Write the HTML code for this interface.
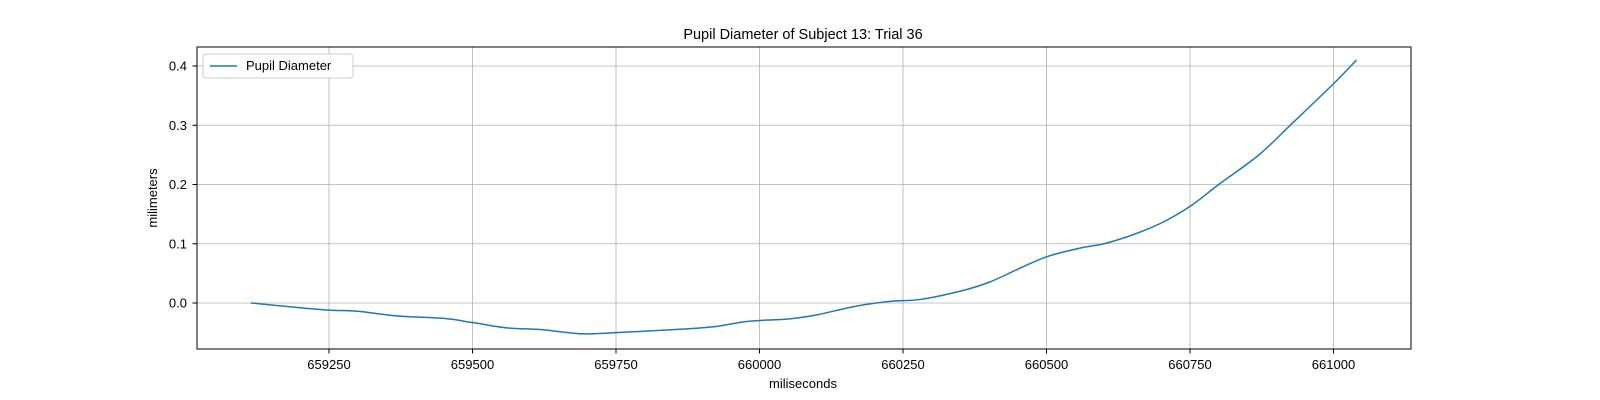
<!DOCTYPE html>
<html><head><meta charset="utf-8"><style>
html,body{margin:0;padding:0;background:#fff;}
svg{display:block;font-family:"Liberation Sans","DejaVu Sans",sans-serif;}
</style></head><body>
<svg id="chart" width="1600" height="400">
<rect x="0" y="0" width="1600" height="400" fill="#fff"/>
<g id="grid"></g>
<g id="xticks"></g>
<g id="yticks"></g>
<path id="line" fill="none" stroke="#1f77b4" stroke-width="1.5"/>
<rect x="197" y="47" width="1214" height="302" fill="none" stroke="#000" stroke-width="1"/>
<text x="803" y="39" text-anchor="middle" font-size="14.5">Pupil Diameter of Subject 13: Trial 36</text>
<text x="803" y="388" text-anchor="middle" font-size="13">miliseconds</text>
<text transform="translate(157,198) rotate(-90)" text-anchor="middle" font-size="13">milimeters</text>
<g>
<rect x="203" y="54" width="150" height="24" rx="3" fill="#fff" stroke="#ccc"/>
<line x1="210" y1="66" x2="237" y2="66" stroke="#1f77b4" stroke-width="1.5"/>
<text x="246" y="70" font-size="13">Pupil Diameter</text>
</g>
</svg>
<script>
const xs=[659114,659200,659250,659300,659370,659450,659500,659560,659620,659690,659750,659850,659920,659980,660050,660100,660170,660230,660280,660350,660400,660450,660500,660560,660600,660650,660700,660750,660800,660870,660930,661000,661040];
const ys=[0.0,-0.008,-0.012,-0.014,-0.022,-0.026,-0.033,-0.042,-0.045,-0.052,-0.050,-0.045,-0.040,-0.031,-0.027,-0.020,-0.005,0.003,0.006,0.020,0.035,0.057,0.078,0.093,0.100,0.115,0.135,0.163,0.200,0.250,0.305,0.370,0.410];
const xTicks=[659250,659500,659750,660000,660250,660500,660750,661000];
const yTicks=[0.0,0.1,0.2,0.3,0.4];
const yTickLabels=["0.0","0.1","0.2","0.3","0.4"];
function X(v){return 329+(v-659250)*143.5/250;}
function Y(v){return 303-v*592.5;}
const ns="http://www.w3.org/2000/svg";
const grid=document.getElementById('grid'),gx=document.getElementById('xticks'),gy=document.getElementById('yticks');
function mk(tag,attrs,parent){const e=document.createElementNS(ns,tag);for(const k in attrs)e.setAttribute(k,attrs[k]);parent.appendChild(e);return e;}
xTicks.forEach(t=>{
 const x=X(t);
 const g=mk('line',{x1:x,x2:x,y1:47,y2:349,stroke:'#b0b0b0','stroke-width':0.8},grid);
 
 
 const tk=mk('line',{x1:x,x2:x,y1:349,y2:353.5,stroke:'#000'},gx);
 
 
 const tx=mk('text',{x:x,y:369,'text-anchor':'middle','font-size':13},gx);
 tx.textContent=String(t);
 
 
});
yTicks.forEach((t,i)=>{
 const y=Y(t);
 const g=mk('line',{x1:197,x2:1411,y1:y,y2:y,stroke:'#b0b0b0','stroke-width':0.8},grid);
 
 
 const tk=mk('line',{x1:192.5,x2:197,y1:y,y2:y,stroke:'#000'},gy);
 
 
 const tx=mk('text',{x:187,y:y+4.5,'text-anchor':'end','font-size':13},gy);
 tx.textContent=yTickLabels[i];
 
 
});
const pts=xs.map((v,i)=>[X(v),Y(ys[i])]);
let d='M'+pts[0][0]+','+pts[0][1];
for(let i=0;i<pts.length-1;i++){
 const p0=pts[i-1]||pts[i],p1=pts[i],p2=pts[i+1],p3=pts[i+2]||p2;
 const c1=[p1[0]+(p2[0]-p0[0])/6,p1[1]+(p2[1]-p0[1])/6];
 const c2=[p2[0]-(p3[0]-p1[0])/6,p2[1]-(p3[1]-p1[1])/6];
 d+=' C'+c1+' '+c2+' '+p2;
}
document.getElementById('line').setAttribute('d',d);
</script>
</body></html>
